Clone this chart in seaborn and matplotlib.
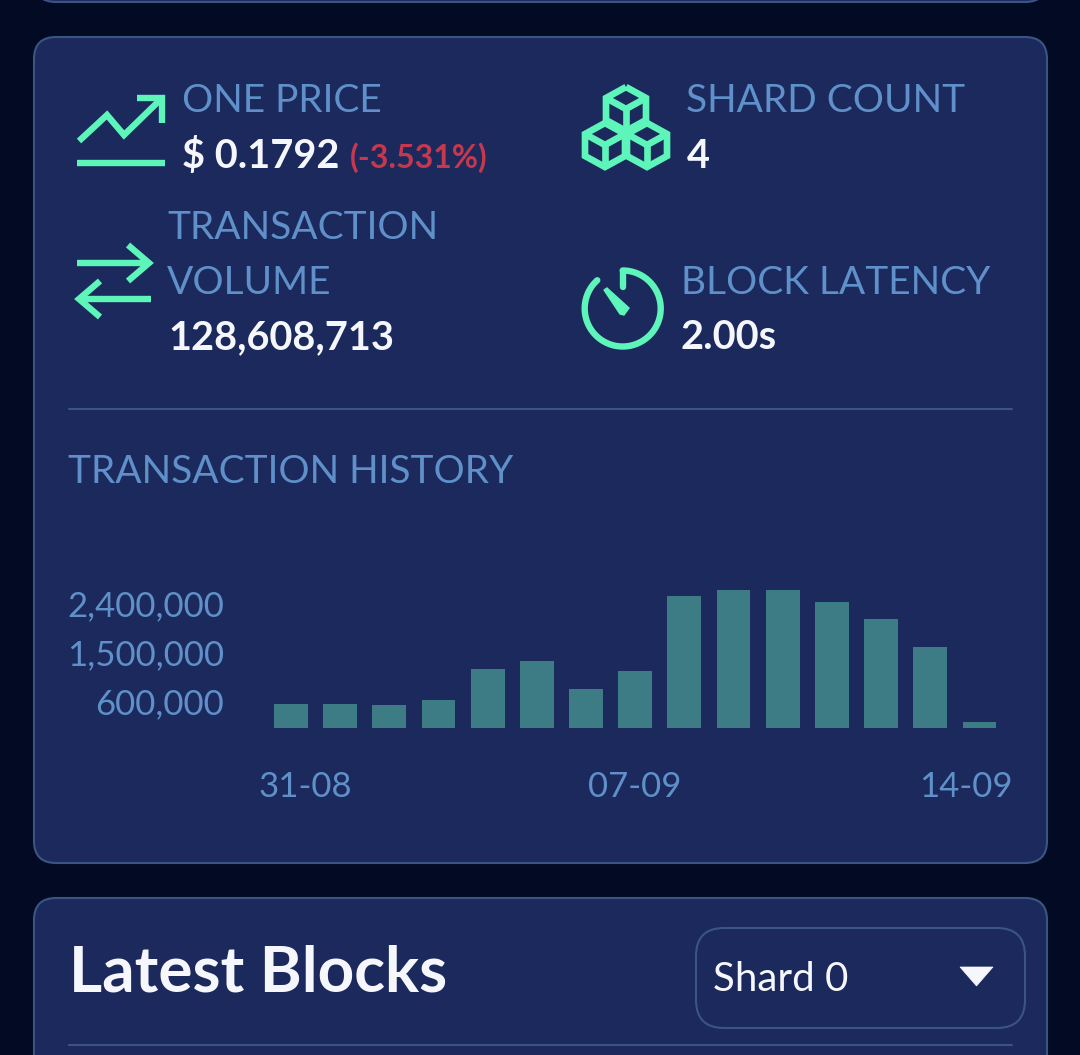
import numpy as np
import pandas as pd
import matplotlib
matplotlib.use("Agg")
import matplotlib.pyplot as plt
import matplotlib.transforms as mtransforms
from matplotlib.patches import FancyBboxPatch, Polygon
import seaborn as sns

# data
days = ["31-08", "01-09", "02-09", "03-09", "04-09", "05-09", "06-09", "07-09",
        "08-09", "09-09", "10-09", "11-09", "12-09", "13-09", "14-09"]
tx_counts = [587000, 582000, 558000, 650000, 1224000, 1366000, 863000, 1193000,
             2571000, 2675000, 2670000, 2455000, 2148000, 1623000, 251000]
y_ticks = [600000, 1500000, 2400000]
x_tick_days = ["31-08", "07-09", "14-09"]

# colours
PAGE = "#020A24"
CARD = "#1B295C"
BORDER = "#3B5583"
BLUE = "#5F90C9"
MINT = "#5EF5BB"
WHITE = "#F5F7FC"
RED = "#C5384D"
BAR = "#3D7C84"

W, H = 1080, 1055

sns.set_theme(style="dark")
plt.rcParams["font.family"] = ["Lato", "DejaVu Sans"]

fig = plt.figure(figsize=(W / 100, H / 100), dpi=100, facecolor=PAGE)

# whole figure axes in pixels, for the cards, icons and labels
bg = fig.add_axes([0, 0, 1, 1])
bg.set_xlim(0, W)
bg.set_ylim(H, 0)
bg.axis("off")
bg.set_facecolor(PAGE)


def card(x0, y0, x1, y1, r, face=CARD, edge=BORDER, lw=1.5):
    bg.add_patch(FancyBboxPatch((x0 + r, y0 + r), x1 - x0 - 2 * r, y1 - y0 - 2 * r,
                                boxstyle=f"round,pad={r},rounding_size={r}",
                                fc=face, ec=edge, lw=lw))


card(34, -120, 1047, 2, 22)
card(34, 37, 1047, 863, 22)
card(34, 898, 1047, 1200, 22)
card(696, 928, 1025, 1028, 28)
bg.plot([69, 1012], [409, 409], color=BORDER, lw=1.5)
bg.plot([69, 1012], [1045, 1045], color=BORDER, lw=1.5)


def stroke(xs, ys, lw=4.6, cap="butt"):
    bg.plot(xs, ys, color=MINT, lw=lw, solid_capstyle=cap, solid_joinstyle="miter")


# rising chart icon
stroke([79, 107, 124, 161], [141, 115, 135, 99])
stroke([137, 162, 162], [98, 98, 123])
stroke([77, 165], [163, 163])

# transfer arrows
stroke([77, 148], [263, 263])
stroke([128, 149, 128], [245, 263, 281])
stroke([151, 80], [299, 299])
stroke([100, 79, 100], [281, 299, 317])

# cubes icon
for cx, cy in [(626, 109), (605, 145), (647, 145)]:
    hex_x = [cx, cx + 20, cx + 20, cx, cx - 20, cx - 20, cx]
    hex_y = [cy - 22, cy - 11, cy + 11, cy + 22, cy + 11, cy - 11, cy - 22]
    stroke(hex_x, hex_y, lw=4.8)
    stroke([cx - 20, cx, cx + 20], [cy - 11, cy, cy - 11], lw=4.8)
    stroke([cx, cx], [cy, cy + 22], lw=4.8)

# timer icon
t = np.radians(np.linspace(90, -228, 120))
stroke(622.7 + 38 * np.cos(t), 308.5 - 38 * np.sin(t), lw=4.6, cap="round")
stroke([622.7, 622.7], [271, 287], lw=4.6, cap="round")
bg.add_patch(Polygon([[604, 290], [607, 288], [629, 308], [624, 315], [620, 314]],
                     closed=True, fc=MINT, ec=MINT, lw=1))

# stat labels
LABEL = 28
VALUE = 28.6
for x, y, s in [(182, 112, "ONE PRICE"), (686, 112, "SHARD COUNT"),
                (167, 239, "TRANSACTION"), (167, 294, "VOLUME"),
                (681, 294, "BLOCK LATENCY"), (68, 483, "TRANSACTION HISTORY")]:
    bg.text(x, y, s, color=BLUE, fontsize=LABEL, va="baseline", ha="left")
for x, y, s in [(182, 168, "$ 0.1792"), (687, 168, "4"),
                (168, 349, "128,608,713"), (681, 349, "2.00s")]:
    bg.text(x, y, s, color=WHITE, fontsize=VALUE, fontweight="bold", va="baseline", ha="left")
bg.text(350, 168, "(-3.531%)", color=RED, fontsize=23, fontweight="bold", va="baseline", ha="left")

# bottom card header
bg.text(69, 991, "Latest Blocks", color=WHITE, fontsize=46, fontweight="bold", va="baseline", ha="left")
bg.text(713, 991, "Shard 0", color=WHITE, fontsize=29, va="baseline", ha="left")
bg.add_patch(Polygon([[960, 967], [993, 967], [976.5, 986]], closed=True, fc=WHITE, ec=WHITE, lw=0.5))

# transaction history chart
ax = fig.add_axes([250 / W, 1 - 728 / H, (1012 - 250) / W, (728 - 570) / H])
ax.patch.set_alpha(0)
df = pd.DataFrame({"day": days, "count": tx_counts})
sns.barplot(data=df, x="day", y="count", order=days, color=BAR, saturation=1,
            width=0.687, errorbar=None, linewidth=0, ax=ax)
ax.set_xlim(-0.83, 14.66)
ax.set_ylim(140800, 3042800)
ax.set_xlabel("")
ax.set_ylabel("")
ax.grid(False)
sns.despine(ax=ax, left=True, bottom=True)

ax.set_yticks(y_ticks)
ax.set_yticklabels([f"{v:,}" for v in y_ticks])
ax.set_xticks([days.index(d) for d in x_tick_days])
ax.set_xticklabels(x_tick_days)
ax.tick_params(axis="y", length=0, pad=18.5, labelsize=25, labelcolor=BLUE)
ax.tick_params(axis="x", length=0, pad=31, labelsize=25, labelcolor=BLUE)

# nudge tick labels: end labels sit inward of their bars, y labels up a little
labels = ax.get_xticklabels()
for lab, dx in [(labels[0], 14), (labels[2], -14)]:
    lab.set_transform(lab.get_transform() + mtransforms.ScaledTranslation(dx / 100, 0, fig.dpi_scale_trans))
for lab in ax.get_yticklabels():
    lab.set_transform(lab.get_transform() + mtransforms.ScaledTranslation(0, 2 / 100, fig.dpi_scale_trans))

fig.savefig("out.png", dpi=100, facecolor=PAGE)
